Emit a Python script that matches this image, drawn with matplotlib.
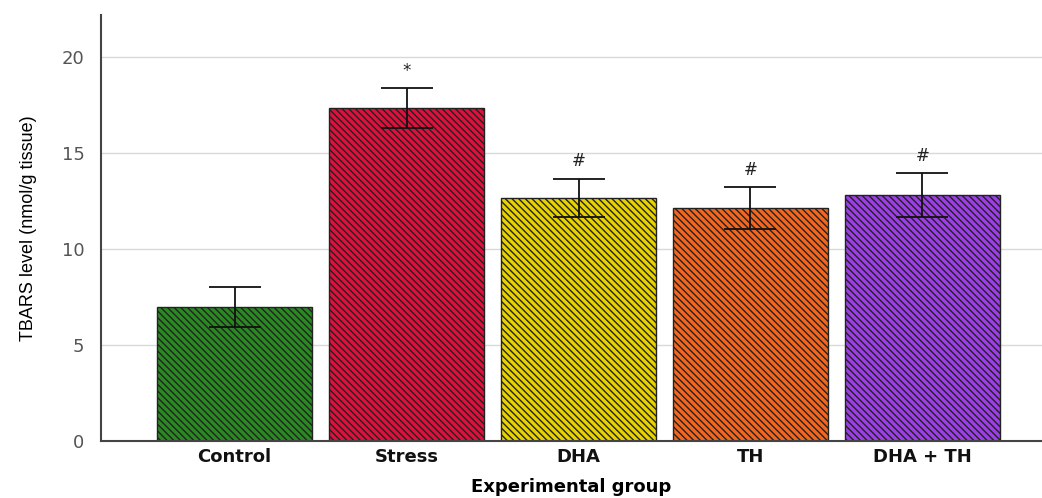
import matplotlib
matplotlib.use('Agg')
import matplotlib.pyplot as plt

# Data
groups = ['Control', 'Stress', 'DHA', 'TH', 'DHA + TH']
means = [6.98, 17.34, 12.66, 12.14, 12.81]
errors = [1.02, 1.05, 1.0, 1.07, 1.16]
marks = ['', '*', '#', '#', '#']
colors = ['#2a8a22', '#e0103c', '#e8d200', '#f4661e', '#9d3ee6']

plt.rcParams['hatch.linewidth'] = 1.0

fig = plt.figure(figsize=(10.42, 4.98), dpi=100, facecolor='white')
ax = fig.add_axes([0.097, 0.1145, 0.903, 0.8555])

x = list(range(len(groups)))
ax.bar(x, means, width=0.9, color=colors, edgecolor='#222222', linewidth=1.0,
       hatch='\\' * 5, zorder=2)
ax.errorbar(x, means, yerr=errors, fmt='none', ecolor='#111111', elinewidth=1.3,
            capsize=19, capthick=1.3, zorder=3)

# Significance marks above the error bars
for i in x:
    if marks[i]:
        ax.annotate(marks[i], (i, means[i] + errors[i]), xytext=(0, 6),
                    textcoords='offset points', ha='center', va='bottom',
                    fontsize=12, color='#222222')

ax.set_xlim(-0.776, 4.695)
ax.set_ylim(0, 22.2)
ax.set_yticks([0, 5, 10, 15, 20])
ax.yaxis.grid(True, color='#d9d9d9', linewidth=1.0, zorder=0)
ax.set_axisbelow(True)

for s in ['top', 'right']:
    ax.spines[s].set_visible(False)
ax.spines['left'].set_color('#444444')
ax.spines['bottom'].set_color('#444444')
ax.spines['left'].set_linewidth(1.5)
ax.spines['bottom'].set_linewidth(1.5)

ax.tick_params(axis='y', length=0, pad=12, labelsize=13, labelcolor='#555555')
ax.tick_params(axis='x', length=0, pad=5)
ax.set_xticks(x)
ax.set_xticklabels(groups, fontsize=13, fontweight='bold', color='#111111')

ax.set_xlabel('Experimental group', fontsize=13, fontweight='bold', labelpad=9)
ax.set_ylabel('TBARS level (nmol/g tissue)', fontsize=13,
              family=['Liberation Sans Narrow', 'Liberation Sans', 'DejaVu Sans'])
ax.yaxis.set_label_coords(-0.068, 0.5)

plt.savefig('out.png', dpi=100, facecolor='white')
